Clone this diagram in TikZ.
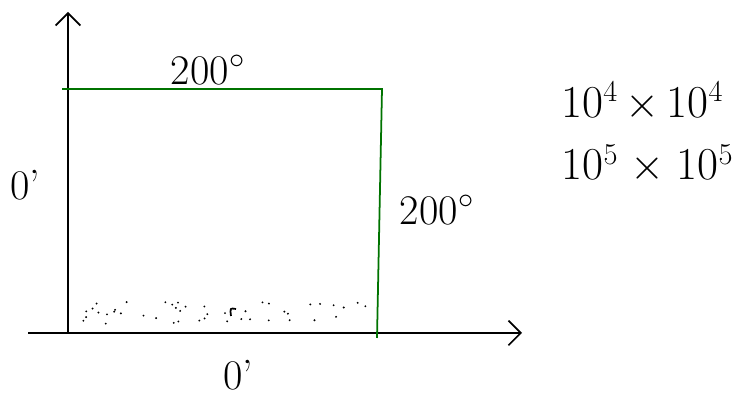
\documentclass[tikz,border=0pt]{standalone}
\usepackage{tikz}
\usetikzlibrary{arrows.meta,positioning}

\begin{document}
\begin{tikzpicture}[
  axis/.style={line width=1pt, black, -{Straight Barb[length=7pt,width=14pt,line width=1pt]}},
  plate/.style={line width=1pt, green!45!black},
  lbl/.style={font=\fontsize{24}{28}\selectfont, inner sep=1pt},
  note/.style={font=\fontsize{26}{30}\selectfont, inner sep=1pt}
]
\useasboundingbox (0,0) rectangle (14.86,7.98);

% axes
\coordinate (o) at (1.36,1.32);
\coordinate (ytop) at (1.36,7.74);
\coordinate (xstart) at (0.56,1.32);
\coordinate (xend) at (10.44,1.32);
\draw[axis] (o) -- (ytop);
\draw[axis] (xstart) -- (xend);

% plate edges
\coordinate (tl) at (1.24,6.2);
\coordinate (tr) at (7.64,6.2);
\coordinate (br) at (7.54,1.22);
\draw[plate] (tl) -- (tr) -- (br);

% speckle along the bottom
\pgfmathsetseed{7}
\foreach \i in {1,...,45}
  \fill ({1.5+5.9*rnd},{1.5+0.45*rnd}) circle (0.6pt);
\draw[line width=1pt] (4.62,1.66) .. controls (4.6,1.82) .. (4.72,1.8);

% labels
\node[lbl] (top) at (4.16,6.58) {200$^{\circ}$};
\node[lbl] (right) at (8.74,3.78) {200$^{\circ}$};
\node[lbl] (left) at (0.5,4.28) {0'};
\node[lbl] (bottom) at (4.76,0.48) {0'};

\node[note] (n1) at (12.85,5.95) {10$^{4}\,\times\,$10$^{4}$};
\node[note] (n2) at (12.95,4.7) {10$^{5}\;\times\;$10$^{5}$};
\end{tikzpicture}
\end{document}
